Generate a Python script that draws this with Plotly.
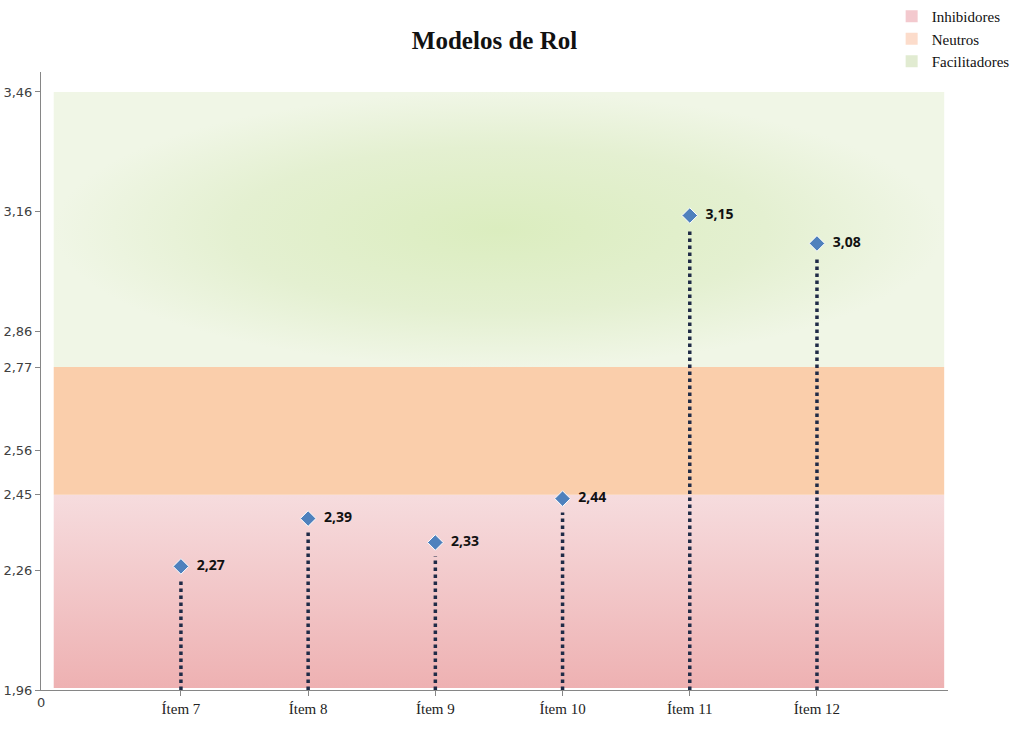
import plotly.graph_objects as go

# data
items = ["Ítem 7", "Ítem 8", "Ítem 9", "Ítem 10", "Ítem 11", "Ítem 12"]
scores = [2.27, 2.39, 2.33, 2.44, 3.15, 3.08]
score_labels = ["2,27", "2,39", "2,33", "2,44", "3,15", "3,08"]

y_ticks = [1.96, 2.26, 2.45, 2.56, 2.77, 2.86, 3.16, 3.46]
y_tick_labels = ["1,96", "2,26", "2,45", "2,56", "2,77", "2,86", "3,16", "3,46"]

# bands: (name, lower, upper)
band_names = ["Inhibidores", "Neutros", "Facilitadores"]
band_low = [1.965, 2.45, 2.77]
band_high = [2.45, 2.77, 3.46]
band_x = [0.0, 7.0]

x_pos = list(range(1, len(items) + 1))
y_min = 1.96

fig = go.Figure()

# Inhibidores band - vertical gradient, darker at the bottom
fig.add_trace(go.Scatter(
    x=[band_x[0], band_x[1], band_x[1], band_x[0], band_x[0]],
    y=[band_low[0], band_low[0], band_high[0], band_high[0], band_low[0]],
    mode="lines", line=dict(width=0), fill="toself",
    fillgradient=dict(type="vertical",
                      colorscale=[[0, "#EEB1B2"], [1, "#F6DCDE"]]),
    hoverinfo="skip", showlegend=False,
))

# Neutros band - flat orange
fig.add_trace(go.Scatter(
    x=[band_x[0], band_x[1], band_x[1], band_x[0], band_x[0]],
    y=[band_low[1], band_low[1], band_high[1], band_high[1], band_low[1]],
    mode="lines", line=dict(width=0), fill="toself",
    fillcolor="#FACEAB",
    hoverinfo="skip", showlegend=False,
))

# Facilitadores band - radial gradient, greener in the middle
fig.add_trace(go.Scatter(
    x=[band_x[0], band_x[1], band_x[1], band_x[0], band_x[0]],
    y=[band_low[2], band_low[2], band_high[2], band_high[2], band_low[2]],
    mode="lines", line=dict(width=0), fill="toself",
    fillgradient=dict(type="radial",
                      colorscale=[[0, "#DBEDBF"], [0.6, "#E4F0D1"], [1, "#F0F6E6"]]),
    hoverinfo="skip", showlegend=False,
))

# dotted drop lines
drop_x, drop_y = [], []
for xp, s in zip(x_pos, scores):
    drop_x += [xp, xp, None]
    drop_y += [y_min, s - 0.035, None]
fig.add_trace(go.Scatter(
    x=drop_x, y=drop_y, mode="lines",
    line=dict(color="#1F2B47", width=3.5, dash="dot"),
    hoverinfo="skip", showlegend=False,
))

# points + labels
fig.add_trace(go.Scatter(
    x=x_pos, y=scores, mode="markers+text",
    marker=dict(symbol="diamond", size=12, color="#4F81BD",
                line=dict(width=1, color="#FFFFFF")),
    text=["  " + t for t in score_labels],
    textposition="middle right",
    textfont=dict(family="Open Sans, Liberation Sans, sans-serif",
                  size=14, color="#111111", weight="bold"),
    showlegend=False,
))

# legend entries
legend_colors = ["#F3C9CE", "#FCDCCB", "#E1EBD1"]
for name, col in zip(band_names, legend_colors):
    fig.add_trace(go.Scatter(
        x=[None], y=[None], mode="markers", name=name,
        marker=dict(symbol="square", size=12, color=col),
    ))

fig.add_annotation(
    text="0", xref="paper", yref="paper", x=0, y=0, yshift=-22,
    xanchor="center", showarrow=False,
    font=dict(family="DejaVu Sans, Verdana, sans-serif", size=13, color="#404040"),
)

fig.update_layout(
    width=1032, height=729,
    title=dict(text="<b>Modelos de Rol</b>", x=0.5, xref="paper",
               y=0.945, yref="container",
               xanchor="center", yanchor="middle",
               font=dict(family="Liberation Serif, Times New Roman, serif",
                         size=25, color="#111111")),
    plot_bgcolor="white",
    paper_bgcolor="white",
    margin=dict(l=41, r=84, t=72, b=39, autoexpand=False),
    xaxis=dict(
        range=[-0.1, 7.03],
        tickvals=x_pos, ticktext=items,
        showgrid=False, zeroline=False,
        showline=True, linecolor="#868686", linewidth=1,
        ticks="outside", ticklen=5, tickcolor="#868686",
        tickfont=dict(family="Liberation Serif, Times New Roman, serif",
                      size=15, color="#222222"),
    ),
    yaxis=dict(
        range=[1.96, 3.51],
        tickvals=y_ticks, ticktext=y_tick_labels,
        showgrid=False, zeroline=False,
        showline=True, linecolor="#868686", linewidth=1,
        ticks="outside", ticklen=5, tickcolor="#868686",
        tickfont=dict(family="DejaVu Sans, Verdana, sans-serif",
                      size=13, color="#404040"),
    ),
    legend=dict(
        x=0.864, xref="container", y=1.0, yref="container",
        xanchor="left", yanchor="top",
        font=dict(family="Liberation Serif, Times New Roman, serif",
                  size=15, color="#111111"),
        itemsizing="constant", tracegroupgap=0,
        bgcolor="rgba(0,0,0,0)",
    ),
)

# drop the default page margin so the figure fills the window
fig.write_html("out.html", config={"displayModeBar": False},
               post_script="document.body.style.margin='0';")
